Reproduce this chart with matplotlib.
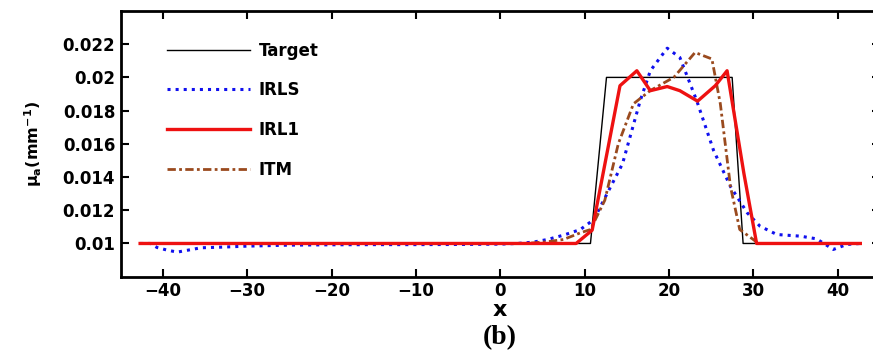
import matplotlib
matplotlib.use('Agg')
import matplotlib.pyplot as plt

# values
target_x = [-42.7, 10.7, 12.6, 27.5, 28.8, 42.7]
target_y = [0.01, 0.01, 0.02, 0.02, 0.01, 0.01]

irls_x = [-42.7, -41.5, -40.7, -39.5, -38.3, -37.0, -35.5, -33.0, -30.0, -25.0, -20.0,
          -15.0, -10.0, -5.0, 0.0, 2.0, 3.9, 5.6, 7.5, 9.5, 11.1, 12.7, 14.5, 16.6,
          17.8, 19.8, 21.3, 23.3, 25.3, 27.3, 29.3, 30.8, 32.8, 35.6, 37.5, 39.5,
          41.1, 42.7]
irls_y = [0.01, 0.01, 0.00976, 0.0096, 0.00948, 0.0096, 0.00974, 0.00978, 0.00984,
          0.0099, 0.00992, 0.00993, 0.00993, 0.00994, 0.00996, 0.01, 0.01008,
          0.01024, 0.0105, 0.01084, 0.01144, 0.01303, 0.0148, 0.0186, 0.0204,
          0.02176, 0.0212, 0.0186, 0.0156, 0.01343, 0.01184, 0.01104, 0.01054,
          0.01044, 0.01028, 0.00964, 0.00994, 0.01]

irl1_x = [-42.7, 9.0, 10.9, 14.2, 16.2, 17.8, 19.8, 21.3, 23.4, 25.5, 26.9, 28.9,
          30.4, 42.7]
irl1_y = [0.01, 0.01, 0.0108, 0.0195, 0.0204, 0.0192, 0.01945, 0.0192, 0.01857,
          0.0195, 0.0204, 0.0142, 0.01, 0.01]

itm_x = [-42.7, 3.0, 5.5, 7.5, 9.5, 10.7, 12.4, 14.0, 15.8, 17.8, 20.6, 23.1, 25.1,
         26.1, 27.3, 28.4, 30.0, 30.6, 42.7]
itm_y = [0.01, 0.01, 0.0101, 0.01024, 0.01064, 0.01084, 0.0126, 0.016, 0.01841,
         0.01921, 0.02001, 0.0215, 0.02111, 0.01841, 0.01343, 0.01084, 0.01024,
         0.01, 0.01]

xticks = [-40, -30, -20, -10, 0, 10, 20, 30, 40]
yticks = [0.01, 0.012, 0.014, 0.016, 0.018, 0.02, 0.022]
ytick_labels = ['0.01', '0.012', '0.014', '0.016', '0.018', '0.02', '0.022']

plt.rcParams['font.family'] = ['DejaVu Sans']
plt.rcParams['mathtext.default'] = 'bf'

fig = plt.figure(figsize=(8.73, 3.54), dpi=100)
ax = fig.add_axes([0.1383, 0.2184, 0.8694, 0.7506])

ax.plot(target_x, target_y, color='black', lw=1.0, label='Target')
ax.plot(irls_x, irls_y, color='#1010ee', lw=2.2, linestyle=':', label='IRLS')
ax.plot(irl1_x, irl1_y, color='#ee1111', lw=2.4, linestyle='-', label='IRL1')
ax.plot(itm_x, itm_y, color='#9a4a1e', lw=2.0, linestyle=(0, (3, 1.2, 1, 1.2)),
        label='ITM')

# keep IRL1 on top
ax.lines[2].set_zorder(5)

ax.set_xlim(-45, 45)
ax.set_ylim(0.008, 0.024)
ax.set_xticks(xticks)
ax.set_yticks(yticks)
ax.set_yticklabels(ytick_labels)

for s in ax.spines.values():
    s.set_linewidth(2)
ax.tick_params(direction='in', top=True, right=True, length=6, width=1.5,
               labelsize=12, pad=4)
for lab in ax.get_xticklabels() + ax.get_yticklabels():
    lab.set_fontweight('bold')

ax.set_xlabel('x', fontsize=16, fontweight='bold', labelpad=0)
ax.set_ylabel('μ$_a$(mm$^{-1}$)', fontsize=11.5, fontweight='bold')
ax.yaxis.set_label_coords(-0.101, 0.5)

ax.legend(loc='upper left', bbox_to_anchor=(0.061, 0.885), frameon=False,
          borderpad=0, borderaxespad=0, handlelength=5.0, handletextpad=0.5,
          labelspacing=1.3, prop={'weight': 'bold', 'size': 12})

fig.text(0.5727, 0.045, '(b)', fontsize=20, fontweight='bold',
         family='Liberation Serif', ha='center', va='center')

fig.savefig('out.png', dpi=100)
